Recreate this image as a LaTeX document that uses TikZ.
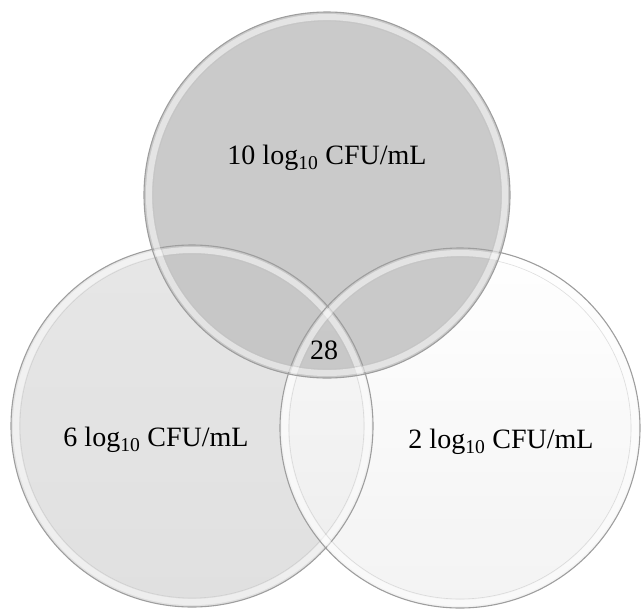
\documentclass[tikz,border=0pt]{standalone}
\usepackage{fontspec}
\setmainfont{Liberation Serif}
\begin{document}
\begin{tikzpicture}[x=1pt,y=-1pt,
  lbl/.style={font=\fontsize{28}{32}\selectfont, text=black, inner sep=0pt},
  rimouter/.style={draw=black!38, line width=1.1pt},
  rimband/.style={draw=white, draw opacity=0.5, line width=6pt},
  riminner/.style={draw=black!25, draw opacity=0.5, line width=0.6pt}]
\useasboundingbox (0,0) rectangle (641,611);
% fills
\shade[top color=black!10, bottom color=black!13, fill opacity=0.95] (192,426) circle[radius=181];
\shade[top color=white, bottom color=black!6, fill opacity=0.8] (460,428) circle[radius=180];
\fill[black!23, fill opacity=0.9] (327,195) circle[radius=183];
% rims
\foreach \cx/\cy/\r in {192/426/181, 460/428/180, 327/195/183}{
  \draw[rimband] (\cx,\cy) circle[radius=\r-5];
  \draw[riminner] (\cx,\cy) circle[radius=\r-9];
  \draw[rimouter] (\cx,\cy) circle[radius=\r];
}
% labels
\node[lbl] (top) at (327,158) {10 log\textsubscript{10} CFU/mL};
\node[lbl] (left) at (156,440) {6 log\textsubscript{10} CFU/mL};
\node[lbl] (right) at (501,442) {2 log\textsubscript{10} CFU/mL};
\node[lbl] (mid) at (324,350) {28};
\end{tikzpicture}
\end{document}
